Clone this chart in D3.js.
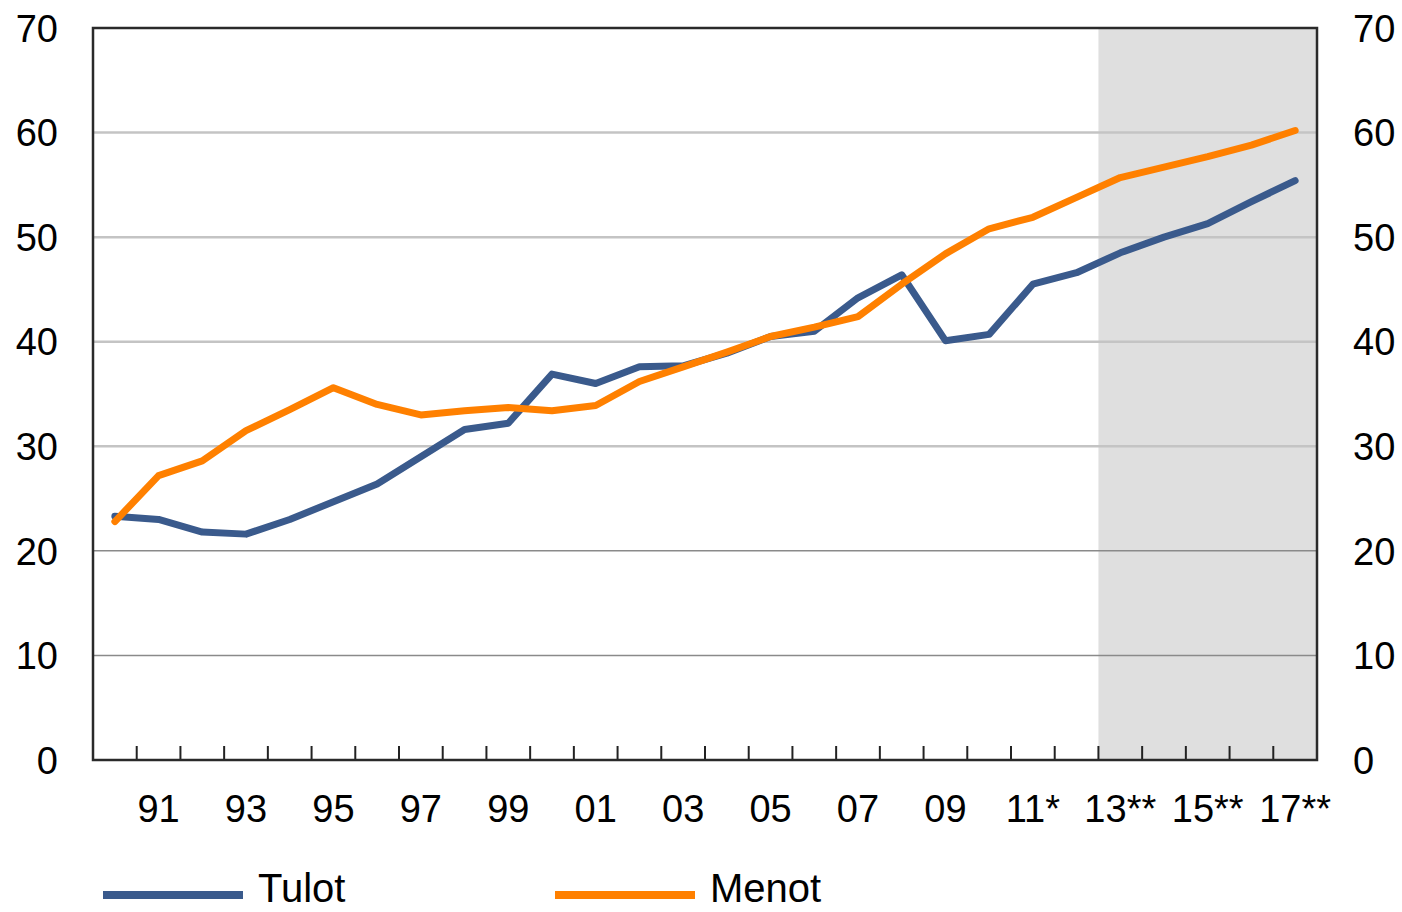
<!DOCTYPE html>
<html>
<head>
<meta charset="utf-8">
<script src="https://cdnjs.cloudflare.com/ajax/libs/d3/7.8.5/d3.min.js"></script>
<style>
  body { margin: 0; background: #fff; }
  svg { display: block; font-family: "Liberation Sans", Arial, sans-serif; }
  .legend text { font-family: "Liberation Sans Narrow", "Arial Narrow", "Liberation Sans", sans-serif; }
</style>
</head>
<body>
<svg id="chart" width="1402" height="912"></svg>
<script>
// years 1990-2017, * = estimate, ** = forecast
var years = d3.range(1990, 2018);
var yearLabels = ["", "91", "", "93", "", "95", "", "97", "", "99", "", "01", "", "03", "",
                  "05", "", "07", "", "09", "", "11*", "", "13**", "", "15**", "", "17**"];
var forecastStart = 2013;

var tulot = [23.3, 23.0, 21.8, 21.6, 23.0, 24.7, 26.4, 29.0, 31.6, 32.2, 36.9, 36.0, 37.6, 37.7,
             38.9, 40.5, 41.0, 44.2, 46.4, 40.1, 40.7, 45.5, 46.6, 48.5, 50.0, 51.3, 53.4, 55.4];
var menot = [22.8, 27.2, 28.6, 31.5, 33.5, 35.6, 34.0, 33.0, 33.4, 33.7, 33.4, 33.9, 36.2, 37.6,
             39.0, 40.5, 41.4, 42.4, 45.5, 48.4, 50.8, 51.9, 53.8, 55.7, 56.7, 57.7, 58.8, 60.2];

var yTicks = [0, 10, 20, 30, 40, 50, 60, 70];

var series = [
    { name: "Tulot", values: tulot, color: "#3A5A8C" },
    { name: "Menot", values: menot, color: "#FF8000" }
];

var svg = d3.select("#chart");
var plotL = 93, plotR = 1317, plotT = 28, plotB = 760;

var x = d3.scaleBand().domain(years).range([plotL, plotR]).padding(0);
var y = d3.scaleLinear().domain([0, 70]).range([plotB, plotT]);

// forecast shading
svg.append("rect")
    .attr("x", x(forecastStart))
    .attr("y", plotT)
    .attr("width", plotR - x(forecastStart))
    .attr("height", plotB - plotT)
    .attr("fill", "#DFDFDF");

// gridlines
svg.selectAll(".grid")
    .data(yTicks.filter(function (d) { return d > 0 && d < 70; }))
    .enter().append("line")
    .attr("x1", plotL).attr("x2", plotR)
    .attr("y1", function (d) { return y(d); })
    .attr("y2", function (d) { return y(d); })
    .attr("stroke", function (d) { return d <= 20 ? "#8A8A8A" : "#C4C4C4"; })
    .attr("stroke-width", function (d) { return d <= 20 ? 1.5 : 2.5; });

// left and right value labels
svg.selectAll(".yl")
    .data(yTicks)
    .enter().append("text")
    .attr("x", 58)
    .attr("y", function (d) { return y(d); })
    .attr("dy", "0.36em")
    .attr("text-anchor", "end")
    .attr("font-size", 38)
    .text(function (d) { return d; });

svg.selectAll(".yr")
    .data(yTicks)
    .enter().append("text")
    .attr("x", 1353)
    .attr("y", function (d) { return y(d); })
    .attr("dy", "0.36em")
    .attr("text-anchor", "start")
    .attr("font-size", 38)
    .text(function (d) { return d; });

// ticks between categories, pointing up
svg.selectAll(".tick")
    .data(years.slice(1))
    .enter().append("line")
    .attr("x1", function (d) { return x(d); })
    .attr("x2", function (d) { return x(d); })
    .attr("y1", plotB).attr("y2", plotB - 14)
    .attr("stroke", "#222").attr("stroke-width", 2);

// year labels
svg.selectAll(".xl")
    .data(years)
    .enter().append("text")
    .attr("x", function (d) { return x(d) + x.bandwidth() / 2; })
    .attr("y", 808)
    .attr("dy", "0.36em")
    .attr("text-anchor", "middle")
    .attr("font-size", 38)
    .text(function (d, i) { return yearLabels[i]; });

// plot frame
svg.append("rect")
    .attr("x", plotL).attr("y", plotT)
    .attr("width", plotR - plotL).attr("height", plotB - plotT)
    .attr("fill", "none").attr("stroke", "#2A2A2A").attr("stroke-width", 2.5);

// lines
var line = d3.line()
    .x(function (d, i) { return x(years[i]) + x.bandwidth() / 2; })
    .y(function (d) { return y(d); });

svg.selectAll(".series")
    .data(series)
    .enter().append("path")
    .attr("d", function (d) { return line(d.values); })
    .attr("fill", "none")
    .attr("stroke", function (d) { return d.color; })
    .attr("stroke-width", 7)
    .attr("stroke-linejoin", "round")
    .attr("stroke-linecap", "round");

// legend
var legend = svg.append("g").attr("class", "legend");
var legendX = [103, 555];
series.forEach(function (s, i) {
    legend.append("rect")
        .attr("x", legendX[i]).attr("y", 891)
        .attr("width", 140).attr("height", 8)
        .attr("fill", s.color);
    legend.append("text")
        .attr("x", legendX[i] + 155).attr("y", 902)
        .attr("font-size", 40)
        .text(s.name);
});
</script>
</body>
</html>
